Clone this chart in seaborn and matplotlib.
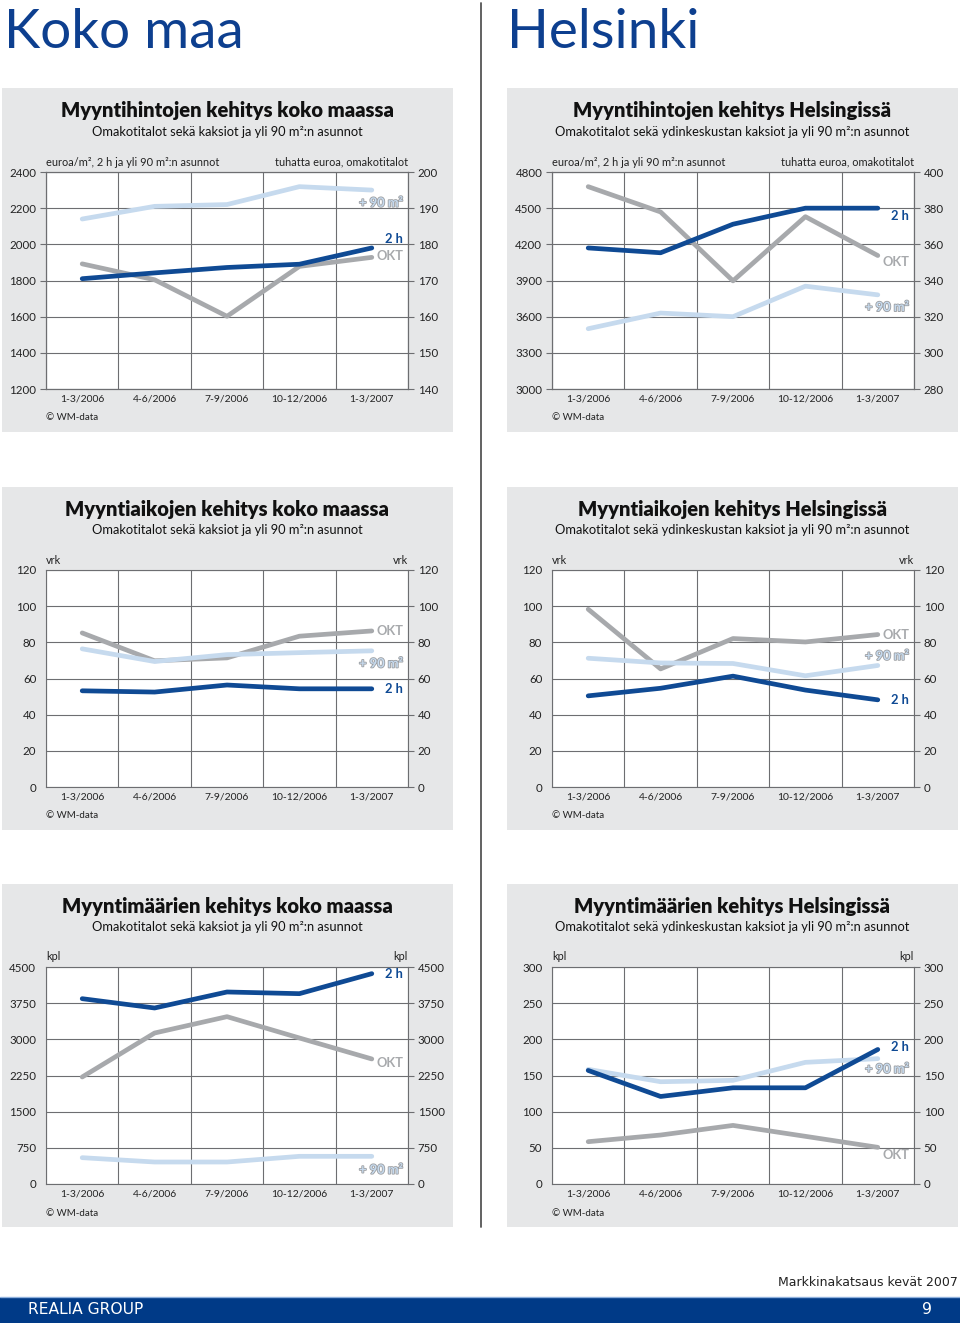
import numpy as np
import pandas as pd
import matplotlib
matplotlib.use("Agg")
import matplotlib.pyplot as plt
import matplotlib.patheffects as pe
from matplotlib.patches import Rectangle
from matplotlib.lines import Line2D
import seaborn as sns

sns.set_style("white")
plt.rcParams["font.family"] = ["Lato", "DejaVu Sans"]

quarters = ["1-3/2006", "4-6/2006", "7-9/2006", "10-12/2006", "1-3/2007"]

# myyntihinnat (euroa/m2 ja tuhatta euroa)
koko_hinta_2h = [1810, 1842, 1872, 1890, 1980]
koko_hinta_90 = [2140, 2210, 2220, 2319, 2300]
koko_hinta_okt = [174.6, 170.2, 160.1, 173.9, 176.4]
hki_hinta_2h = [4170, 4130, 4367, 4500, 4500]
hki_hinta_90 = [3500, 3630, 3600, 3853, 3781]
hki_hinta_okt = [391.9, 377.9, 339.8, 375.3, 353.8]

# myyntiajat (vrk)
koko_aika_2h = [53.2, 52.5, 56.4, 54.3, 54.3]
koko_aika_90 = [76.4, 69.4, 73.2, 74.3, 75.3]
koko_aika_okt = [85.2, 69.8, 71.4, 83.4, 86.3]
hki_aika_2h = [50.4, 54.6, 61.3, 53.6, 48.2]
hki_aika_90 = [71.2, 68.6, 68.3, 61.5, 67.2]
hki_aika_okt = [98.3, 65.3, 82.1, 80.2, 84.3]

# myyntimaarat (kpl)
koko_maara_2h = [3843, 3650, 3982, 3947, 4362]
koko_maara_90 = [546, 456, 456, 574, 574]
koko_maara_okt = [2219, 3131, 3470, 3028, 2593]
hki_maara_2h = [157, 121, 133, 133, 186]
hki_maara_90 = [158.5, 141.4, 143.3, 168.2, 173.3]
hki_maara_okt = [58.5, 67.7, 81, 65.9, 50.7]

C_2H = "#0f4a94"
C_OKT = "#a7a9ac"
C_90 = "#c6daee"
GRID = "#6d6e71"
PANEL = "#e6e7e8"
BLUE = "#0d3f8f"

W, H = 960, 1327
fig = plt.figure(figsize=(W / 100, H / 100), dpi=100)


def fx(px):
    return px / W


def fy(py):
    return 1 - py / H


def frame_y(ax, ylim, step):
    ax.set_ylim(*ylim)
    ax.set_yticks(np.arange(ylim[0], ylim[1] + step / 2, step))
    ax.tick_params(axis="y", length=4, width=0.8, color=GRID, direction="out",
                   labelsize=8.3, pad=3, labelcolor="#222")
    for s in ax.spines.values():
        s.set_color(GRID)
        s.set_linewidth(0.8)
    ax.set_xlabel("")
    ax.set_ylabel("")


def frame_x(ax):
    ax.set_xlim(-0.5, 4.5)
    ax.set_xticks(np.arange(-0.5, 4.6, 1))
    ax.set_xticklabels([])
    ax.set_xticks(range(5), minor=True)
    ax.set_xticklabels(quarters, minor=True)
    ax.tick_params(axis="x", which="major", length=4, width=0.8, color=GRID, direction="out")
    ax.tick_params(axis="x", which="minor", length=0, labelsize=7.5, pad=4, labelcolor="#222")
    ax.grid(True, which="major", color=GRID, lw=0.8)


def line(ax, vals, color):
    sns.lineplot(x=np.arange(5), y=vals, ax=ax, color=color, lw=3.4,
                 solid_capstyle="round", solid_joinstyle="round", sort=False)


def tag(ax, y, txt, kind):
    kw = dict(ha="right", va="center", fontsize=9.3, fontweight="bold")
    if kind == "2h":
        ax.text(4.43, y, txt, color=C_2H, **kw)
    elif kind == "okt":
        ax.text(4.43, y, txt, color=C_OKT, **kw)
    else:
        ax.text(4.43, y, txt, color=C_90,
                path_effects=[pe.withStroke(linewidth=1.2, foreground="#9c9ea1")], **kw)


cols = [(46, 408), (552, 914)]
rows = [(172, 389), (570, 787), (967, 1184)]
panels_y = [(88, 432), (487, 830), (884, 1227)]
panels_x = [(2, 453), (507, 958)]

for (py0, py1) in panels_y:
    for (px0, px1) in panels_x:
        fig.add_artist(Rectangle((fx(px0), fy(py1)), fx(px1 - px0), (py1 - py0) / H,
                                 transform=fig.transFigure, color=PANEL, zorder=-5, lw=0))

axes = {}
for r, (y0, y1) in enumerate(rows):
    for c, (x0, x1) in enumerate(cols):
        ax = fig.add_axes([fx(x0), fy(y1), fx(x1 - x0), (y1 - y0) / H])
        ax.set_facecolor("white")
        axes[(r, c)] = ax

# --- row 1: prices (twin axes, omakotitalot on the right scale) ---
price_sets = [
    (koko_hinta_2h, koko_hinta_90, koko_hinta_okt, (1200, 2400), 200, (140, 200), 10,
     [(2230, "+ 90 m²", "90"), (2030, "2 h", "2h"), (1936, "OKT", "okt")]),
    (hki_hinta_2h, hki_hinta_90, hki_hinta_okt, (3000, 4800), 300, (280, 400), 20,
     [(4438, "2 h", "2h"), (4052, "OKT", "okt"), (3679, "+ 90 m²", "90")]),
]
for c, (s2h, s90, sokt, lim, st, rlim, rst, tags) in enumerate(price_sets):
    ax = axes[(0, c)]
    line(ax, sokt, C_OKT)
    frame_y(ax, rlim, rst)
    frame_x(ax)
    ax2 = ax.twinx()
    line(ax2, s90, C_90)
    line(ax2, s2h, C_2H)
    frame_y(ax2, lim, st)
    ax2.yaxis.tick_left()
    ax.yaxis.tick_right()
    frame_x(ax)
    for y, t, k in tags:
        tag(ax2, y, t, k)

# --- rows 2 and 3: single scale, labels both sides ---
single_sets = {
    (1, 0): (koko_aika_2h, koko_aika_90, koko_aika_okt, (0, 120), 20,
             [(86.3, "OKT", "okt"), (68.3, "+ 90 m²", "90"), (54.1, "2 h", "2h")]),
    (1, 1): (hki_aika_2h, hki_aika_90, hki_aika_okt, (0, 120), 20,
             [(84.3, "OKT", "okt"), (72.5, "+ 90 m²", "90"), (47.9, "2 h", "2h")]),
    (2, 0): (koko_maara_2h, koko_maara_90, koko_maara_okt, (0, 4500), 750,
             [(4355, "2 h", "2h"), (2509, "OKT", "okt"), (296, "+ 90 m²", "90")]),
    (2, 1): (hki_maara_2h, hki_maara_90, hki_maara_okt, (0, 300), 50,
             [(190, "2 h", "2h"), (159, "+ 90 m²", "90"), (40.5, "OKT", "okt")]),
}
for key, (s2h, s90, sokt, lim, st, tags) in single_sets.items():
    ax = axes[key]
    line(ax, sokt, C_OKT)
    line(ax, s90, C_90)
    line(ax, s2h, C_2H)
    frame_y(ax, lim, st)
    frame_x(ax)
    ax.tick_params(axis="y", right=True, labelright=True)
    for y, t, k in tags:
        tag(ax, y, t, k)

# --- texts ---
titles = [
    ("Myyntihintojen kehitys koko maassa", "Omakotitalot sekä kaksiot ja yli 90 m²:n asunnot",
     "Myyntihintojen kehitys Helsingissä", "Omakotitalot sekä ydinkeskustan kaksiot ja yli 90 m²:n asunnot"),
    ("Myyntiaikojen kehitys koko maassa", "Omakotitalot sekä kaksiot ja yli 90 m²:n asunnot",
     "Myyntiaikojen kehitys Helsingissä", "Omakotitalot sekä ydinkeskustan kaksiot ja yli 90 m²:n asunnot"),
    ("Myyntimäärien kehitys koko maassa", "Omakotitalot sekä kaksiot ja yli 90 m²:n asunnot",
     "Myyntimäärien kehitys Helsingissä", "Omakotitalot sekä ydinkeskustan kaksiot ja yli 90 m²:n asunnot"),
]
units = [("euroa/m², 2 h ja yli 90 m²:n asunnot", "tuhatta euroa, omakotitalot"),
         ("vrk", "vrk"), ("kpl", "kpl")]
centers = [227, 732]
for r, (y0, y1) in enumerate(rows):
    t1, s1, t2, s2 = titles[r]
    for c, (t, s) in enumerate([(t1, s1), (t2, s2)]):
        fig.text(fx(centers[c]), fy(y0 - 61), t, ha="center", va="center",
                 fontsize=14.5, fontweight="heavy", color="#111")
        fig.text(fx(centers[c]), fy(y0 - 40), s, ha="center", va="center",
                 fontsize=9.3, color="#111")
        x0, x1 = cols[c]
        fig.text(fx(x0), fy(y0 - 10), units[r][0], ha="left", va="center", fontsize=7.9, color="#222")
        fig.text(fx(x1), fy(y0 - 10), units[r][1], ha="right", va="center", fontsize=7.9, color="#222")
        fig.text(fx(x0), fy(y1 + 29), "© WM-data", ha="left", va="center", fontsize=7, color="#222")

fig.text(fx(4), fy(48), "Koko maa", fontsize=39.5, color=BLUE, va="baseline", ha="left")
fig.text(fx(507), fy(48), "Helsinki", fontsize=39.5, color=BLUE, va="baseline", ha="left")

fig.add_artist(Line2D([fx(480.5), fx(480.5)], [fy(3), fy(1227)], transform=fig.transFigure,
                      color="#555", lw=1.3))

# footer
fig.add_artist(Rectangle((0, fy(1323)), 1, 26 / H, transform=fig.transFigure,
                         color="#003a87", lw=0, zorder=-5))
fig.add_artist(Line2D([0, 1], [fy(1296.5), fy(1296.5)], transform=fig.transFigure,
                      color="#8fb1dd", lw=1))
fig.text(fx(958), fy(1282), "Markkinakatsaus kevät 2007", ha="right", va="center",
         fontsize=9, color="#222", family="DejaVu Sans")
fig.text(fx(28), fy(1310), "REALIA GROUP", ha="left", va="center", fontsize=11.2,
         color="white", family="DejaVu Sans")
fig.text(fx(932), fy(1310), "9", ha="right", va="center", fontsize=11.2,
         color="white", family="DejaVu Sans")

fig.savefig("out.png", dpi=100, facecolor="white")
